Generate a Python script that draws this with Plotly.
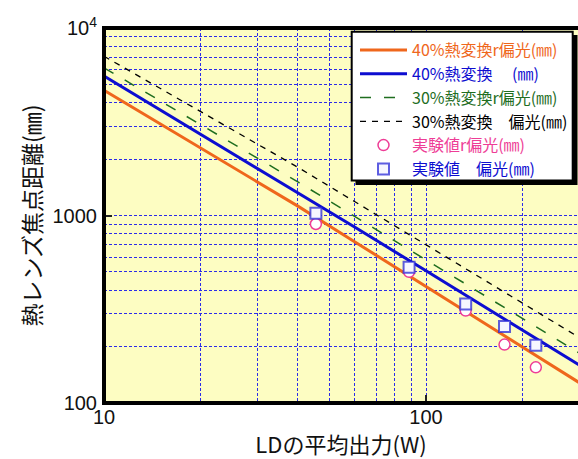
import plotly.graph_objects as go

# ---- data ----
P_line = [10, 20, 40, 60, 100, 150, 200, 300]          # LD average power (W)
f_40_r = [4650, 2285, 1122, 725, 418, 270, 199, 128]    # 40% heat, r-pol (mm)
f_40   = [5540, 2714, 1329, 868, 507, 331, 244, 159]    # 40% heat (mm)
f_30_r = [6135, 3044, 1510, 989, 580, 380, 281, 184]    # 30% heat, r-pol (mm)
f_30   = [7070, 3576, 1808, 1187, 698, 458, 340, 223]   # 30% heat, pol (mm)

P_exp   = [45.5, 88.6, 132.8, 175.3, 219.3]
f_exp_r = [901, 501, 311, 205, 155]                     # measured r-pol (mm)
f_exp   = [1027, 529, 337, 256, 203]                    # measured pol (mm)

names = [
    "40%熱変換r偏光(㎜)",
    "40%熱変換\u3000 (㎜)",
    "30%熱変換r偏光(㎜)",
    "30%熱変換\u3000偏光(㎜)",
    "実験値r偏光(㎜)",
    "実験値\u3000偏光(㎜)",
]
x_ticks = [10, 100]
x_ticktext = ["10", "100"]
y_ticks = [100, 1000, 10000]
y_ticktext = ["100", "1000", "10<sup>4</sup>"]

ORANGE = "#ef671c"
BLUE = "#0d0dd0"
GREEN = "#1f6e1f"
BLACK = "#000000"
PINK = "#ee3d96"

# ---- pixel geometry helpers for layout shapes ----
W, H = 578, 459
L, T, B = 104, 28, 403
R = 578
PW, PH = R - L, B - T
def px(x):
    return (x - L) / PW
def py(y):
    return (B - y) / PH

def lab(text, color):
    return f"<span style='color:{color}'>{text}</span>"

fig = go.Figure()
fig.add_trace(go.Scatter(x=P_line, y=f_40_r, mode="lines", name=lab(names[0], ORANGE),
                         line=dict(color=ORANGE, width=3)))
fig.add_trace(go.Scatter(x=P_line, y=f_40, mode="lines", name=lab(names[1], BLUE),
                         line=dict(color=BLUE, width=3)))
fig.add_trace(go.Scatter(x=P_line, y=f_30_r, mode="lines", name=lab(names[2], GREEN),
                         line=dict(color=GREEN, width=1.5, dash="11px,13px")))
fig.add_trace(go.Scatter(x=P_line, y=f_30, mode="lines", name=lab(names[3], BLACK),
                         line=dict(color=BLACK, width=1.3, dash="6px,6px")))
fig.add_trace(go.Scatter(x=P_exp, y=f_exp_r, mode="markers", name=lab(names[4], PINK),
                         marker=dict(symbol="circle", size=11, color="white",
                                     line=dict(color=PINK, width=1.5))))
fig.add_trace(go.Scatter(x=P_exp, y=f_exp, mode="markers", name=lab(names[5], BLUE),
                         marker=dict(symbol="square", size=11, color="#f6f6ff",
                                     line=dict(color="rgba(40,40,215,0.75)", width=2))))

grid_color = "#2b2be8"
x_minor = [20, 30, 40, 50, 60, 70, 80, 90, 200, 300]
y_minor = [200, 300, 400, 500, 600, 700, 800, 900,
           2000, 3000, 4000, 5000, 6000, 7000, 8000, 9000]

tick_font = dict(family="Liberation Sans, Arial, sans-serif", size=20, color="#111")
title_font = dict(family="Noto Sans CJK JP, sans-serif", size=22, color="#111")

fig.update_xaxes(type="log", range=[1, 2.472], tickvals=x_ticks, ticktext=x_ticktext,
                 ticks="inside", ticklen=8, tickwidth=1.5, tickcolor="#222",
                 showgrid=True, gridcolor=grid_color, griddash="3px,2px", gridwidth=1,
                 minor=dict(tickvals=x_minor, showgrid=True, gridcolor=grid_color,
                            griddash="3px,2px", gridwidth=1, ticks=""),
                 showline=False, zeroline=False, tickfont=tick_font,
                 title=dict(text="LDの平均出力(W)", font=title_font, standoff=11))
fig.update_yaxes(type="log", range=[2, 4], tickvals=y_ticks, ticktext=y_ticktext,
                 ticks="inside", ticklen=8, tickwidth=1.5, tickcolor="#222",
                 showgrid=True, gridcolor=grid_color, griddash="3px,2px", gridwidth=1,
                 minor=dict(tickvals=y_minor, showgrid=True, gridcolor=grid_color,
                            griddash="3px,2px", gridwidth=1, ticks=""),
                 showline=False, zeroline=False, tickfont=tick_font,
                 ticklabelstandoff=6,
                 title=dict(text="熱レンズ焦点距離(㎜)",
                            font=dict(family="Noto Sans CJK JP, sans-serif", size=23, color="#111"),
                            standoff=4))

shapes = []
# frame (left, top, bottom) -- right side is cut off in the reference
frame = dict(type="line", xref="paper", yref="paper", line=dict(color="black", width=4), layer="above")
shapes.append(dict(frame, x0=0, x1=0, y0=py(B + 2), y1=py(T - 2)))
shapes.append(dict(frame, x0=px(L - 2), x1=1, y0=1, y1=1))
shapes.append(dict(frame, x0=px(L - 2), x1=1, y0=0, y1=0))
# legend shadow and box
shapes.append(dict(type="rect", xref="paper", yref="paper", layer="above",
                   x0=px(355.5), x1=px(577.5), y0=py(185), y1=py(35),
                   fillcolor="black", line=dict(width=0)))
shapes.append(dict(type="rect", xref="paper", yref="paper", layer="above",
                   x0=px(351.7), x1=px(572.7), y0=py(180.5), y1=py(31.7),
                   fillcolor="white", line=dict(color="black", width=2)))

fig.update_layout(
    width=W, height=H,
    margin=dict(l=L, r=W - R, t=T, b=H - B, autoexpand=False),
    paper_bgcolor="white", plot_bgcolor="#fdfdc2",
    shapes=shapes,
    showlegend=True,
    legend=dict(x=px(355), y=py(33), xanchor="left", yanchor="top",
                bgcolor="rgba(0,0,0,0)", borderwidth=0,
                itemwidth=47, tracegroupgap=0,
                font=dict(family="Noto Sans CJK JP, sans-serif", size=16)),
)

fig.write_html("out.html")
